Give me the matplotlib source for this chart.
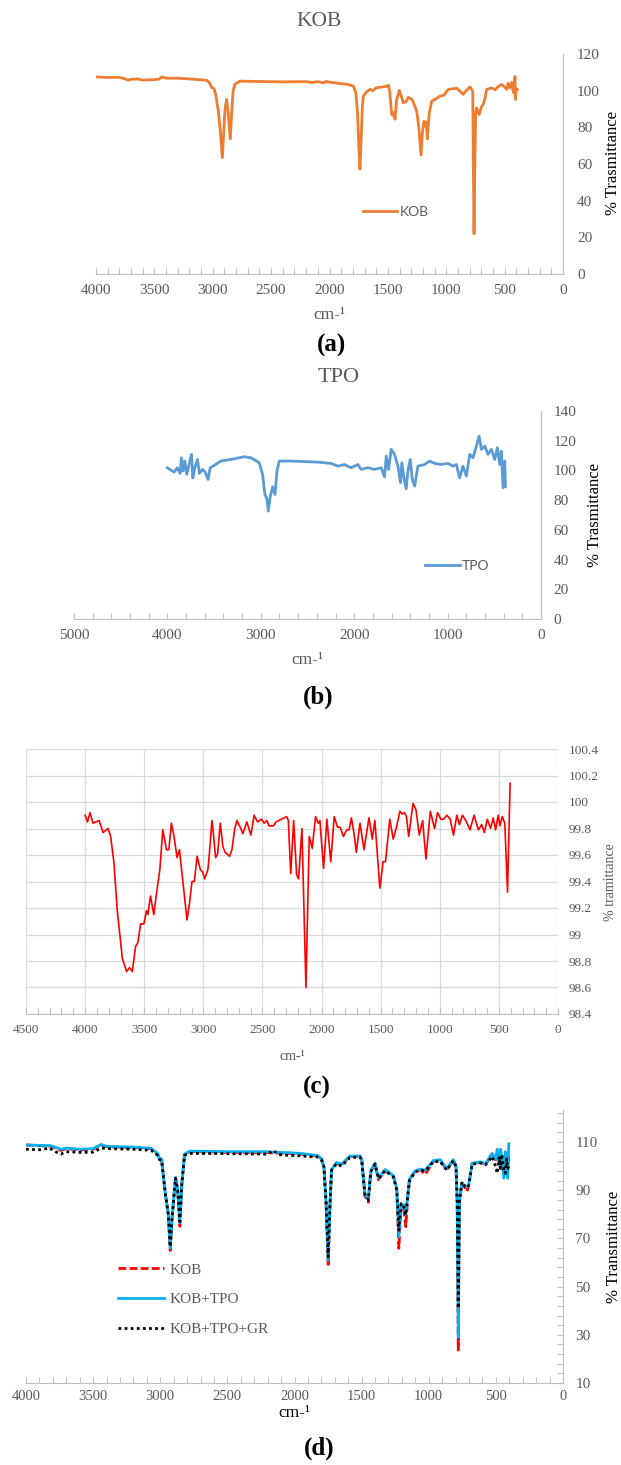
import numpy as np
import matplotlib
matplotlib.use('Agg')
import matplotlib.pyplot as plt
from matplotlib.ticker import MultipleLocator, FixedLocator, FuncFormatter

W, H = 621, 1465
GRAY = '#595959'
AXC = '#bfbfbf'
GRID = '#d9d9d9'

plt.rcParams['font.family'] = ['Liberation Serif', 'DejaVu Sans']

# ---- (a) KOB spectrum ----
wn_a = [4000, 3900, 3800, 3760, 3726, 3700, 3650, 3600, 3500, 3460, 3437, 3400, 3300,
        3200, 3100, 3052, 3030, 3009, 2990, 2975, 2952, 2935, 2918, 2905, 2895, 2881,
        2868, 2850, 2838, 2825, 2810, 2767, 2600, 2400, 2200, 2150, 2100, 2050, 2030,
        1996, 1900, 1850, 1796, 1775, 1760, 1749, 1739, 1728, 1718, 1710, 1680, 1653,
        1630, 1600, 1500, 1496, 1485, 1467, 1455, 1448, 1439, 1425, 1402, 1385, 1368,
        1345, 1325, 1290, 1253, 1235, 1216, 1203, 1190, 1176, 1170, 1162, 1145, 1125,
        1100, 1054, 1020, 982, 950, 910, 880, 854, 830, 797, 780, 773, 768, 762, 755,
        748, 739, 728, 717, 700, 683, 668, 654, 611, 580, 560, 525, 500, 482, 470, 455,
        439, 425, 411, 408, 400, 391]
t_a = [107.5, 107.2, 107.3, 106.6, 105.7, 106.2, 106.4, 105.8, 106.0, 106.3, 107.5, 106.8,
       106.8, 106.4, 105.9, 105.6, 104.5, 101.7, 101.2, 98.0, 88.8, 78.0, 63.5, 78.0, 90.0,
       95.2, 88.0, 73.7, 88.0, 100.0, 103.5, 105.2, 105.0, 104.8, 104.9, 104.5, 104.9,
       104.3, 105.0, 104.6, 103.8, 103.5, 102.5, 99.0, 88.0, 70.0, 57.2, 75.0, 92.0, 97.0,
       99.5, 100.7, 100.0, 101.5, 102.5, 103.0, 100.0, 87.0, 86.5, 88.0, 84.4, 95.0, 100.2,
       97.0, 93.4, 94.0, 96.4, 95.0, 88.8, 80.0, 64.9, 78.0, 83.3, 80.5, 83.0, 73.7, 88.0,
       94.3, 95.0, 97.0, 97.5, 100.7, 101.0, 101.3, 99.5, 98.0, 100.0, 102.0, 100.5, 99.0,
       60.0, 22.0, 60.0, 88.0, 90.6, 88.0, 87.0, 91.0, 92.6, 96.0, 100.7, 101.5, 100.5,
       102.0, 103.4, 102.0, 100.7, 104.0, 101.5, 104.6, 99.0, 107.7, 95.2, 101.0, 100.7]

# ---- (b) TPO spectrum ----
wn_b = [4000, 3964, 3928, 3893, 3864, 3850, 3832, 3814, 3793, 3768, 3742, 3728, 3707,
        3678, 3657, 3624, 3596, 3564, 3542, 3499, 3428, 3320, 3177, 3106, 3016, 2981,
        2956, 2934, 2920, 2898, 2873, 2848, 2827, 2802, 2677, 2391, 2247, 2176, 2104,
        2033, 1961, 1926, 1854, 1783, 1711, 1675, 1657, 1632, 1604, 1568, 1532, 1504,
        1490, 1468, 1443, 1425, 1400, 1378, 1353, 1318, 1246, 1192, 1139, 1067, 996, 942,
        906, 871, 835, 799, 763, 728, 692, 663, 638, 602, 567, 531, 495, 467, 441, 424,
        406, 388, 381]
t_b = [101.8, 100.2, 98.9, 101.8, 98.0, 108.5, 99.6, 106.3, 97.3, 104.0, 110.8, 95.0,
       101.8, 107.4, 98.0, 100.7, 98.9, 93.9, 101.8, 103.4, 106.3, 107.4, 109.2, 108.5,
       105.2, 97.3, 83.8, 80.9, 72.6, 82.7, 89.0, 83.8, 99.6, 106.3, 106.3, 105.6, 104.7,
       102.9, 104.0, 101.8, 104.0, 100.7, 101.8, 100.7, 101.8, 95.7, 109.7, 100.7, 114.2,
       110.8, 102.9, 91.7, 105.2, 95.0, 87.6, 99.6, 107.4, 93.9, 89.4, 102.9, 104.0, 106.3,
       104.7, 104.0, 104.7, 102.9, 104.0, 95.0, 102.9, 96.2, 110.8, 108.5, 116.4, 123.1,
       114.2, 116.4, 110.8, 114.2, 107.4, 115.3, 104.0, 113.0, 88.3, 106.3, 89.0]

# ---- (c) spectrum ----
wn_c = [4000, 3980, 3958, 3933, 3882, 3848, 3806, 3784, 3756, 3728, 3685, 3649, 3624,
        3601, 3573, 3553, 3531, 3503, 3480, 3469, 3447, 3419, 3390, 3368, 3343, 3312,
        3292, 3270, 3250, 3222, 3202, 3171, 3138, 3118, 3096, 3076, 3053, 3025, 3006,
        2989, 2961, 2949, 2927, 2913, 2896, 2879, 2857, 2834, 2815, 2778, 2758, 2736,
        2716, 2688, 2666, 2632, 2598, 2570, 2542, 2508, 2486, 2463, 2444, 2407, 2385,
        2295, 2281, 2261, 2236, 2211, 2194, 2166, 2132, 2104, 2079, 2051, 2028, 2014,
        1983, 1955, 1922, 1893, 1865, 1843, 1815, 1787, 1767, 1748, 1725, 1706, 1675,
        1641, 1599, 1571, 1549, 1507, 1479, 1459, 1423, 1394, 1366, 1338, 1319, 1299,
        1282, 1263, 1226, 1201, 1173, 1145, 1117, 1080, 1044, 1019, 991, 968, 940, 912,
        884, 856, 834, 808, 780, 744, 710, 674, 646, 623, 598, 570, 548, 528, 506, 492,
        472, 450, 427, 405]
t_c = [99.90, 99.85, 99.92, 99.84, 99.86, 99.77, 99.80, 99.74, 99.54, 99.18, 98.82,
       98.72, 98.75, 98.72, 98.91, 98.94, 99.08, 99.08, 99.18, 99.15, 99.29, 99.15, 99.35,
       99.49, 99.79, 99.64, 99.64, 99.84, 99.75, 99.58, 99.64, 99.38, 99.11, 99.23, 99.40,
       99.40, 99.59, 99.49, 99.47, 99.42, 99.49, 99.61, 99.86, 99.74, 99.58, 99.61, 99.84,
       99.66, 99.62, 99.59, 99.64, 99.79, 99.86, 99.81, 99.76, 99.85, 99.75, 99.90, 99.85,
       99.87, 99.84, 99.86, 99.82, 99.82, 99.85, 99.89, 99.86, 99.46, 99.86, 99.45, 99.42,
       99.80, 98.60, 99.74, 99.65, 99.89, 99.84, 99.86, 99.50, 99.87, 99.55, 99.89, 99.81,
       99.81, 99.74, 99.79, 99.79, 99.88, 99.76, 99.62, 99.84, 99.64, 99.88, 99.72, 99.86,
       99.35, 99.55, 99.55, 99.87, 99.72, 99.81, 99.93, 99.91, 99.92, 99.89, 99.74, 99.99,
       99.94, 99.75, 99.86, 99.57, 99.93, 99.80, 99.92, 99.87, 99.87, 99.90, 99.87, 99.75,
       99.90, 99.83, 99.90, 99.86, 99.79, 99.90, 99.79, 99.83, 99.77, 99.87, 99.80, 99.88,
       99.79, 99.90, 99.82, 99.89, 99.84, 99.32, 100.14]

# ---- (d) overlay spectra ----
wn_d = [4000, 3900, 3820, 3800, 3740, 3700, 3600, 3500, 3440, 3400, 3200, 3068, 3020,
        3006, 2990, 2963, 2940, 2926, 2910, 2886, 2870, 2854, 2840, 2819, 2782, 2500,
        2200, 2160, 2117, 2050, 1960, 1900, 1829, 1800, 1781, 1765, 1749, 1735, 1724,
        1687, 1650, 1587, 1512, 1499, 1475, 1460, 1450, 1432, 1400, 1375, 1325, 1263,
        1238, 1223, 1206, 1189, 1171, 1160, 1144, 1102, 1060, 1028, 966, 916, 866, 817,
        797, 788, 780, 772, 753, 735, 715, 702, 677, 615, 578, 528, 503, 490, 475, 466,
        455, 441, 430, 420, 412, 404]
t_kob = [108.8, 108.5, 108.3, 108.0, 106.5, 107.3, 106.7, 107.0, 108.8, 108.0, 107.7,
         107.2, 105.0, 103.0, 102.8, 89.0, 80.0, 65.0, 80.0, 95.3, 90.0, 75.0, 92.0,
         105.0, 106.0, 105.7, 105.6, 105.5, 105.4, 105.3, 105.0, 104.6, 104.2, 103.0,
         99.8, 85.0, 58.3, 85.0, 98.5, 101.3, 100.5, 104.0, 104.0, 102.6, 87.5, 86.5,
         85.0, 97.8, 101.0, 94.4, 98.2, 95.8, 90.3, 65.9, 84.0, 83.4, 74.9, 84.0, 94.4,
         97.8, 98.5, 96.5, 102.0, 102.4, 98.5, 102.4, 99.9, 85.0, 23.7, 85.0, 92.9, 91.5,
         89.5, 92.2, 101.0, 101.6, 100.7, 105.0, 102.6, 104.0, 102.0, 106.7, 101.0, 97.0,
         104.0, 100.0, 98.0, 104.0]
t_kob_tpo = [108.8, 108.6, 108.5, 108.2, 107.0, 107.5, 107.0, 107.3, 109.0, 108.2, 107.9,
             107.4, 105.3, 103.2, 103.0, 89.0, 80.0, 66.0, 80.0, 95.3, 90.0, 76.5, 92.0,
             105.0, 106.2, 106.0, 106.0, 105.8, 105.7, 105.6, 105.3, 104.9, 104.4, 103.2,
             99.8, 85.0, 61.0, 85.0, 98.5, 101.5, 100.8, 104.2, 104.2, 102.8, 88.0, 87.5,
             86.5, 98.0, 101.3, 95.0, 98.6, 96.0, 90.5, 70.7, 84.0, 84.0, 80.0, 86.0, 94.6,
             98.0, 98.8, 98.2, 102.3, 102.7, 98.8, 102.7, 100.0, 85.0, 29.0, 85.0, 93.0,
             92.0, 91.5, 92.5, 101.2, 101.8, 101.0, 105.3, 102.8, 107.0, 101.0, 107.0,
             103.0, 95.0, 106.0, 101.0, 95.0, 109.3]
t_kob_tpo_gr = [107.0, 106.8, 107.5, 106.5, 105.0, 106.0, 105.7, 105.8, 107.5, 107.3,
                107.0, 106.6, 104.5, 102.7, 102.5, 89.0, 80.0, 66.5, 80.0, 95.0, 90.0,
                77.0, 92.0, 104.5, 105.3, 105.2, 105.0, 106.5, 104.8, 104.5, 104.3, 104.0,
                103.8, 102.8, 99.8, 85.0, 62.4, 85.0, 98.3, 101.0, 100.0, 103.6, 103.8,
                102.4, 88.0, 87.0, 86.0, 97.6, 100.8, 94.8, 98.1, 95.5, 90.0, 73.4, 84.5,
                83.8, 79.7, 86.0, 94.0, 97.6, 98.4, 98.0, 101.8, 102.0, 98.3, 102.3, 99.8,
                85.0, 41.0, 85.0, 93.5, 91.8, 91.0, 92.0, 100.8, 101.3, 100.5, 104.0, 100.0,
                97.0, 104.0, 99.0, 105.0, 98.0, 97.0, 103.0, 99.0, 100.0]


def box(fig, l, t, r, b):
    return fig.add_axes([l / W, 1 - b / H, (r - l) / W, (b - t) / H])


def ftext(fig, x, y, s, **kw):
    fig.text(x / W, 1 - y / H, s, ha='center', va='center', **kw)


def style(ax, xmax, xmaj, xmin, ylo, yhi, ymaj, size, xpad, ypad):
    ax.set_xlim(xmax, 0)
    ax.set_ylim(ylo, yhi)
    ax.xaxis.set_major_locator(MultipleLocator(xmaj))
    ax.xaxis.set_minor_locator(MultipleLocator(xmin))
    ax.yaxis.set_major_locator(MultipleLocator(ymaj))
    ax.yaxis.tick_right()
    ax.spines['top'].set_visible(False)
    ax.spines['left'].set_visible(False)
    ax.spines['bottom'].set_color(AXC)
    ax.spines['right'].set_color(AXC)
    ax.tick_params(axis='x', which='both', direction='in', length=4, width=0.8,
                   color=AXC, labelsize=size, labelcolor=GRAY, pad=xpad)
    ax.tick_params(axis='y', which='both', length=0, labelsize=size,
                   labelcolor=GRAY, pad=ypad)
    ax.patch.set_alpha(0)


fig = plt.figure(figsize=(W / 100, H / 100), dpi=100)

# (a)
ax = box(fig, 96, 54, 563, 274)
ax.plot(wn_a, t_a, color='#ED7D31', lw=2.0, label='KOB')
style(ax, 4000, 500, 100, 0, 120, 20, 11, 7, 10)
ax.legend(loc='center left', bbox_to_anchor=(363 / W, 1 - 212 / H),
          bbox_transform=fig.transFigure, frameon=False, handlelength=2.45,
          handletextpad=0.2, borderpad=0, borderaxespad=0,
          prop={'family': 'Lato', 'size': 10}, labelcolor=GRAY)
ftext(fig, 319, 21, 'KOB', fontsize=15.5, color=GRAY)
ftext(fig, 329, 315, 'cm-¹', fontsize=12.5, color=GRAY)
ftext(fig, 331, 345, '(a)', fontsize=18, fontweight='bold')
ftext(fig, 613, 163, '% Trasmittance', fontsize=12, rotation=90)

# (b)
ax = box(fig, 74, 411, 541, 619)
ax.plot(wn_b, t_b, color='#5B9BD5', lw=2.0, label='TPO')
style(ax, 5000, 1000, 200, 0, 140, 20, 11, 7, 9)
ax.legend(loc='center left', bbox_to_anchor=(425 / W, 1 - 566 / H),
          bbox_transform=fig.transFigure, frameon=False, handlelength=2.5,
          handletextpad=0.15, borderpad=0, borderaxespad=0,
          prop={'family': 'Lato', 'size': 10}, labelcolor=GRAY)
ftext(fig, 339, 378, 'TPO', fontsize=16, color=GRAY)
ftext(fig, 307, 660, 'cm-¹', fontsize=12.5, color=GRAY)
ftext(fig, 318, 697, '(b)', fontsize=18, fontweight='bold')
ftext(fig, 595, 515, '% Trasmittance', fontsize=12, rotation=90)

# (c)
ax = box(fig, 26, 749, 558, 1014)
ax.plot(wn_c, t_c, color='#FF0000', lw=1.2)
style(ax, 4500, 500, 100, 98.4, 100.4, 0.2, 9.5, 7, 8)
ax.spines['right'].set_visible(False)
ax.grid(True, which='major', color=GRID, lw=0.9)
ax.set_axisbelow(True)
ax.yaxis.set_major_formatter(FuncFormatter(lambda v, p: f'{v:.1f}'.rstrip('0').rstrip('.')))
ftext(fig, 292, 1056, 'cm-¹', fontsize=10, color=GRAY)
ftext(fig, 317, 1087, '(c)', fontsize=18, fontweight='bold')
ftext(fig, 611, 882, '% tramittance', fontsize=10, rotation=90, color=GRAY)

# (d)
ax = box(fig, 26, 1110, 563, 1383)
ax.plot(wn_d, t_kob, color='#FF0000', lw=2.0, ls=(0, (2.8, 1.2)), label='KOB')
ax.plot(wn_d, t_kob_tpo, color='#00B0F0', lw=2.0, label='KOB+TPO')
ax.plot(wn_d, t_kob_tpo_gr, color='black', lw=2.0, ls=(0, (1, 1.2)), label='KOB+TPO+GR')
style(ax, 4000, 500, 100, 10, 123.3, 20, 10.5, 5, 9)
ax.yaxis.set_major_locator(FixedLocator([10, 30, 50, 70, 90, 110]))
ax.yaxis.set_minor_locator(FixedLocator(np.arange(10, 124, 4)))
ax.tick_params(axis='y', which='both', direction='in', length=4, width=0.8, color=AXC,
               labelsize=11)
ax.legend(loc='upper left', bbox_to_anchor=(118 / W, 1 - 1263 / H),
          bbox_transform=fig.transFigure, frameon=False, handlelength=3.0,
          handletextpad=0.4, labelspacing=1.05, borderpad=0, borderaxespad=0,
          prop={'size': 11}, labelcolor=GRAY)
ftext(fig, 294, 1413, 'cm-¹', fontsize=12.5)
ftext(fig, 319, 1448, '(d)', fontsize=18, fontweight='bold')
ftext(fig, 614, 1247, '% Transmittance', fontsize=12, rotation=90)

fig.savefig('out.png', dpi=100)
